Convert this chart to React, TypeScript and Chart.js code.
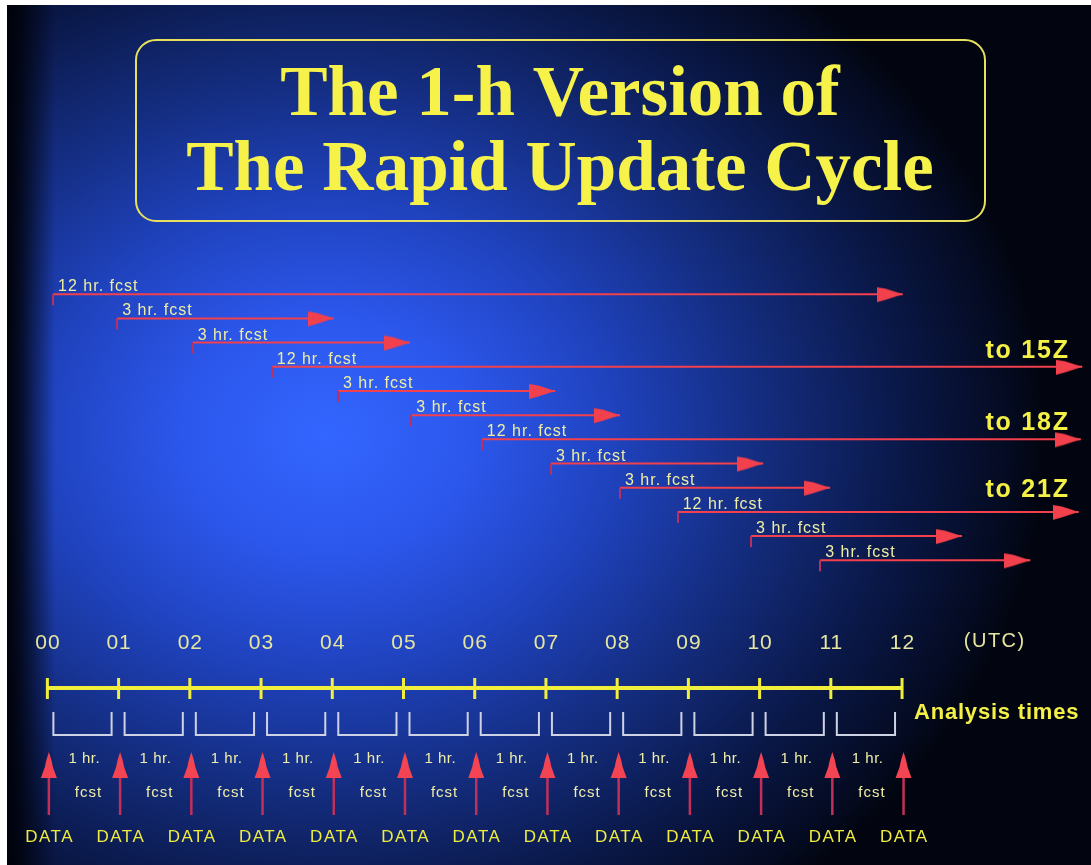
import React, { useEffect, useRef } from 'react';
import { Chart, registerables } from 'chart.js';

Chart.register(...registerables);

// ---------- data ----------
const titleLines = ['The 1-h Version of', 'The Rapid Update Cycle'];

const fcstLabels = [
  '12 hr. fcst', '3 hr. fcst', '3 hr. fcst',
  '12 hr. fcst', '3 hr. fcst', '3 hr. fcst',
  '12 hr. fcst', '3 hr. fcst', '3 hr. fcst',
  '12 hr. fcst', '3 hr. fcst', '3 hr. fcst',
];
// start / end of each forecast arrow, in hours (UTC)
const fcstStart = [0.08, 0.98, 2.04, 3.15, 4.08, 5.11, 6.10, 7.07, 8.04, 8.85, 9.88, 10.85];
const fcstEnd = [12.01, 4.02, 5.09, 14.53, 7.13, 8.04, 14.51, 10.05, 10.99, 14.48, 12.84, 13.80];

const extRows = [3, 6, 9];
const extLabels = ['to 15Z', 'to 18Z', 'to 21Z'];

const analysisHours = [0, 1, 2, 3, 4, 5, 6, 7, 8, 9, 10, 11, 12];
const hourLabels = ['00', '01', '02', '03', '04', '05', '06', '07', '08', '09', '10', '11', '12'];
const unitLabel = '(UTC)';
const axisLabel = 'Analysis times';
const intervalTop = '1 hr.';
const intervalBottom = 'fcst';
const dataLabel = 'DATA';

// ---------- layout ----------
const W = 1084;
const H = 860;
const X_MIN = -0.567;
const X_MAX = 14.653;
const Y_MIN = -11.955;
const Y_MAX = 23.597;
const EXT_LIFT = [9, 9, 15];

const RED = '#f2404c';
const TICK_RED = '#b8305e';
const LABEL = '#f0eea2';
const YELLOW = '#f4f046';
const TITLE_YELLOW = '#f6f24a';
const SANS = '"Liberation Sans", Arial, sans-serif';
const SERIF = '"Liberation Serif", "Times New Roman", serif';

function txt(ctx: CanvasRenderingContext2D, s: string, x: number, y: number, font: string, color: string, align: CanvasTextAlign = 'left', ls = 0) {
  ctx.save();
  ctx.font = font;
  ctx.fillStyle = color;
  ctx.textAlign = align;
  ctx.textBaseline = 'alphabetic';
  (ctx as any).letterSpacing = ls + 'px';
  let xx = x;
  if (align === 'center') xx += ls / 2;
  if (align === 'right') xx += ls;
  ctx.fillText(s, xx, y);
  ctx.restore();
}

function makeArrow(color: string) {
  const L = 26, h = 18;
  const c = document.createElement('canvas');
  c.width = L * 2;
  c.height = h;
  const g = c.getContext('2d')!;
  const cy = h / 2;
  g.fillStyle = color;
  g.beginPath();
  g.moveTo(0, cy - 7);
  g.lineTo(9, cy - 5.5);
  g.lineTo(L, cy);
  g.lineTo(9, cy + 5.5);
  g.lineTo(0, cy + 8);
  g.closePath();
  g.fill();
  return c;
}

function makeTick(color: string) {
  const c = document.createElement('canvas');
  c.width = 2;
  c.height = 24;
  const g = c.getContext('2d')!;
  g.fillStyle = color;
  g.fillRect(0, 12, 2, 11);
  return c;
}

const bgPlugin = {
  id: 'bg',
  beforeDraw(chart: any) {
    const ctx: CanvasRenderingContext2D = chart.ctx;
    const w = chart.width, h = chart.height;
    ctx.save();
    ctx.fillStyle = '#02050f';
    ctx.fillRect(0, 0, w, h);
    const cx = 320, cy = 430, rx = 720, ry = 590;
    ctx.translate(cx, cy);
    ctx.scale(1, ry / rx);
    const g = ctx.createRadialGradient(0, 0, 0, 0, 0, rx);
    g.addColorStop(0, '#3366ff');
    g.addColorStop(0.2, '#2c57ec');
    g.addColorStop(0.4, '#1f42bd');
    g.addColorStop(0.6, '#142d80');
    g.addColorStop(0.8, '#0a1848');
    g.addColorStop(0.95, '#040a20');
    g.addColorStop(1, '#02050f');
    ctx.fillStyle = g;
    ctx.fillRect(-cx, -cy * rx / ry, w, h * rx / ry);
    ctx.restore();
    ctx.save();
    const lg = ctx.createLinearGradient(0, 0, 48, 0);
    lg.addColorStop(0, 'rgba(0,2,10,1)');
    lg.addColorStop(0.3, 'rgba(0,2,10,0.8)');
    lg.addColorStop(1, 'rgba(0,2,10,0)');
    ctx.fillStyle = lg;
    ctx.fillRect(0, 0, 48, h);
    ctx.restore();
  },
};

function roundRectPath(ctx: CanvasRenderingContext2D, x: number, y: number, w: number, h: number, r: number) {
  ctx.beginPath();
  ctx.moveTo(x + r, y);
  ctx.lineTo(x + w - r, y);
  ctx.arcTo(x + w, y, x + w, y + r, r);
  ctx.lineTo(x + w, y + h - r);
  ctx.arcTo(x + w, y + h, x + w - r, y + h, r);
  ctx.lineTo(x + r, y + h);
  ctx.arcTo(x, y + h, x, y + h - r, r);
  ctx.lineTo(x, y + r);
  ctx.arcTo(x, y, x + r, y, r);
  ctx.closePath();
}

const overlayPlugin = {
  id: 'overlay',
  afterDatasetsDraw(chart: any) {
    const ctx: CanvasRenderingContext2D = chart.ctx;
    const xs = chart.scales.x;
    const ys = chart.scales.y;
    const px = (v: number) => xs.getPixelForValue(v);
    const py = (v: number) => ys.getPixelForValue(v);

    // title box
    ctx.save();
    ctx.strokeStyle = '#e8e05c';
    ctx.lineWidth = 2;
    roundRectPath(ctx, 129, 35, 849, 181, 20);
    ctx.stroke();
    ctx.restore();
    txt(ctx, titleLines[0], 553, 110, `bold 71px ${SERIF}`, TITLE_YELLOW, 'center');
    txt(ctx, titleLines[1], 553, 185, `bold 71px ${SERIF}`, TITLE_YELLOW, 'center');

    // forecast labels
    fcstStart.forEach((s, i) => {
      txt(ctx, fcstLabels[i], px(s) + 5, py(i) - 3, `16px ${SANS}`, LABEL, 'left', 1);
    });
    extRows.forEach((r, k) => {
      txt(ctx, extLabels[k], 1061, py(r) - EXT_LIFT[k], `bold 25px ${SANS}`, YELLOW, 'right', 1.8);
    });

    // hour labels
    analysisHours.forEach((h, i) => {
      txt(ctx, hourLabels[i], px(h), 644, `21px ${SANS}`, '#e6e6a0', 'center', 1);
    });
    txt(ctx, unitLabel, 987, 642, `20px ${SANS}`, '#e6e6a0', 'center', 1.5);

    // analysis axis
    const x0 = px(analysisHours[0]);
    const x1 = px(analysisHours[analysisHours.length - 1]);
    ctx.save();
    ctx.strokeStyle = '#f2ee3c';
    ctx.lineWidth = 4;
    ctx.beginPath();
    ctx.moveTo(x0 - 1, 683);
    ctx.lineTo(x1 + 1, 683);
    ctx.stroke();
    ctx.lineWidth = 3;
    analysisHours.forEach((h) => {
      ctx.beginPath();
      ctx.moveTo(px(h), 673);
      ctx.lineTo(px(h), 694);
      ctx.stroke();
    });
    // brackets
    ctx.strokeStyle = '#cdd2e4';
    ctx.lineWidth = 2;
    for (let i = 0; i < analysisHours.length - 1; i++) {
      const a = px(analysisHours[i]) + 6;
      const b = px(analysisHours[i + 1]) - 7;
      ctx.beginPath();
      ctx.moveTo(a, 707);
      ctx.lineTo(a, 730);
      ctx.lineTo(b, 730);
      ctx.lineTo(b, 707);
      ctx.stroke();
    }
    ctx.restore();
    txt(ctx, axisLabel, 907, 714, `bold 22px ${SANS}`, YELLOW, 'left', 0.8);

    // data arrows
    analysisHours.forEach((h) => {
      const x = px(h) + 1.5;
      ctx.save();
      ctx.strokeStyle = '#c2305a';
      ctx.lineWidth = 2.5;
      ctx.beginPath();
      ctx.moveTo(x, 770);
      ctx.lineTo(x, 810);
      ctx.stroke();
      ctx.fillStyle = '#f24452';
      ctx.beginPath();
      ctx.moveTo(x, 747);
      ctx.lineTo(x + 2.5, 755);
      ctx.lineTo(x + 4, 762);
      ctx.lineTo(x + 8, 773);
      ctx.lineTo(x - 8, 773);
      ctx.lineTo(x - 4, 762);
      ctx.lineTo(x - 2.5, 755);
      ctx.closePath();
      ctx.fill();
      ctx.restore();
      txt(ctx, dataLabel, x, 837, `17px ${SANS}`, '#eeec40', 'center', 1.5);
    });
    for (let i = 0; i < analysisHours.length - 1; i++) {
      const mid = (px(analysisHours[i]) + px(analysisHours[i + 1])) / 2;
      txt(ctx, intervalTop, mid + 1, 758, `15px ${SANS}`, '#f0eea8', 'center', 0.5);
      txt(ctx, intervalBottom, mid + 5, 792, `15px ${SANS}`, '#f0eea8', 'center', 1);
    }
  },
};

export default function App() {
  const ref = useRef<HTMLCanvasElement>(null);
  useEffect(() => {
    const canvas = ref.current!;
    const arrowImg = makeArrow(RED);
    const tickImg = makeTick(TICK_RED);
    const datasets = fcstStart.map((s, i) => ({
      label: fcstLabels[i],
      data: [
        { x: s, y: i },
        { x: fcstEnd[i], y: i },
      ],
      borderColor: RED,
      backgroundColor: RED,
      borderWidth: 2,
      pointStyle: [tickImg, arrowImg],
      pointRadius: 1,
      fill: false,
      tension: 0,
    }));
    const chart = new Chart(canvas, {
      type: 'line',
      data: { datasets } as any,
      options: {
        animation: false,
        responsive: false,
        events: [],
        layout: { padding: 0, autoPadding: false },
        plugins: { legend: { display: false }, tooltip: { enabled: false } },
        scales: {
          x: { type: 'linear', min: X_MIN, max: X_MAX, display: false },
          y: { type: 'linear', min: Y_MIN, max: Y_MAX, reverse: true, display: false },
        },
      } as any,
      plugins: [bgPlugin, overlayPlugin],
    });
    return () => chart.destroy();
  }, []);
  return (
    <div style={{ position: 'absolute', left: 7, top: 5, width: W, height: H }}>
      <canvas ref={ref} width={W} height={H} style={{ display: 'block', width: W, height: H }} />
    </div>
  );
}
